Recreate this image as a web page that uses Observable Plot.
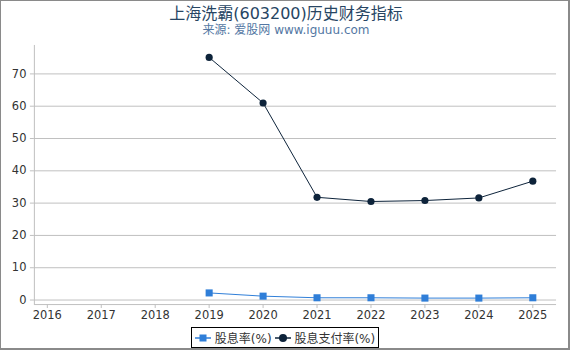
<!DOCTYPE html>
<html><head><meta charset="utf-8">
<script src="https://cdn.jsdelivr.net/npm/d3@7"></script>
<script src="https://cdn.jsdelivr.net/npm/@observablehq/plot@0.6"></script>
<style>
body{margin:0;background:#fff;font-family:"DejaVu Sans","Noto Sans CJK SC",sans-serif;}
#wrap{position:relative;width:570px;height:350px;box-sizing:border-box;border:1px solid #8a8a8a;border-right:2px solid #8a8a8a;border-bottom:2px solid #8a8a8a;overflow:hidden;}
#title{position:absolute;left:0;top:-1px;width:570px;text-align:center;font-size:16px;color:#274563;}
#sub{position:absolute;left:0;top:19px;width:570px;text-align:center;font-size:12px;color:#5377a3;}
#chart{position:absolute;left:-1px;top:38px;}
#legend{position:absolute;left:190px;top:326px;height:21px;border:1px solid #000;box-sizing:border-box;font-size:12px;color:#333;display:flex;align-items:center;padding:0 3px 0 3px;white-space:nowrap;}
.item{display:flex;align-items:center;margin-right:3px;}
.item:last-child{margin-right:0;}
</style></head>
<body><div id="wrap">
<div id="title">上海洗霸(603200)历史财务指标</div>
<div id="sub">来源: 爱股网 www.iguuu.com</div>
<div id="chart"></div>
<div id="legend">
<span class="item"><svg width="16" height="10"><line x1="0" y1="5" x2="16" y2="5" stroke="#2f7ed8" stroke-width="1.5"/><rect x="4.5" y="1.5" width="7" height="7" fill="#2f7ed8"/></svg>&nbsp;股息率(%)</span>
<span class="item"><svg width="16" height="10"><line x1="0" y1="5" x2="16" y2="5" stroke="#0d233a" stroke-width="1.5"/><circle cx="8" cy="5" r="4" fill="#0d233a"/></svg>&nbsp;股息支付率(%)</span>
</div>
</div>
<script>
const years = [2019, 2020, 2021, 2022, 2023, 2024, 2025];
const dividendYield = [2.2, 1.2, 0.7, 0.7, 0.6, 0.6, 0.7];
const payoutRatio = [75.1, 61.0, 31.8, 30.5, 30.8, 31.6, 36.8];
const xTicks = [2016, 2017, 2018, 2019, 2020, 2021, 2022, 2023, 2024, 2025];
const yTicks = [0, 10, 20, 30, 40, 50, 60, 70];
const xDomain = [2015.76, 2025.44];
const yDomain = [-1.4, 78.8];

const yieldData = years.map((y, i) => ({year: y, v: dividendYield[i]}));
const payoutData = years.map((y, i) => ({year: y, v: payoutRatio[i]}));

const chart = Plot.plot({
  width: 570,
  height: 287,
  marginLeft: 34,
  marginRight: 12,
  marginTop: 6,
  marginBottom: 21,
  style: {fontFamily: "DejaVu Sans, sans-serif", fontSize: "11px", color: "#333", background: "transparent"},
  x: {type: "linear", domain: xDomain, label: null},
  y: {domain: yDomain, label: null},
  marks: [
    Plot.gridY(yTicks, {stroke: "#c0c0c0", strokeOpacity: 1}),
    Plot.ruleX([xDomain[0]], {stroke: "#c0c0c0"}),
    Plot.ruleY([yDomain[0]], {stroke: "#c0c0c0"}),
    Plot.axisY(yTicks, {tickSize: 4, tickPadding: 4, stroke: "#c0c0c0", fill: "#333", fontSize: 11.5, tickFormat: d => String(d)}),
    Plot.axisX(xTicks, {tickSize: 4, tickPadding: 2, stroke: "#c0c0c0", fill: "#333", fontSize: 11.5, tickFormat: d => String(d)}),
    Plot.line(yieldData, {x: "year", y: "v", stroke: "#2f7ed8", strokeWidth: 1}),
    Plot.dot(yieldData, {x: "year", y: "v", symbol: "square", r: 4, fill: "#2f7ed8", stroke: "none"}),
    Plot.line(payoutData, {x: "year", y: "v", stroke: "#0d233a", strokeWidth: 1}),
    Plot.dot(payoutData, {x: "year", y: "v", r: 3.6, fill: "#0d233a", stroke: "none"})
  ]
});
document.getElementById("chart").appendChild(chart);
</script>
</body></html>
